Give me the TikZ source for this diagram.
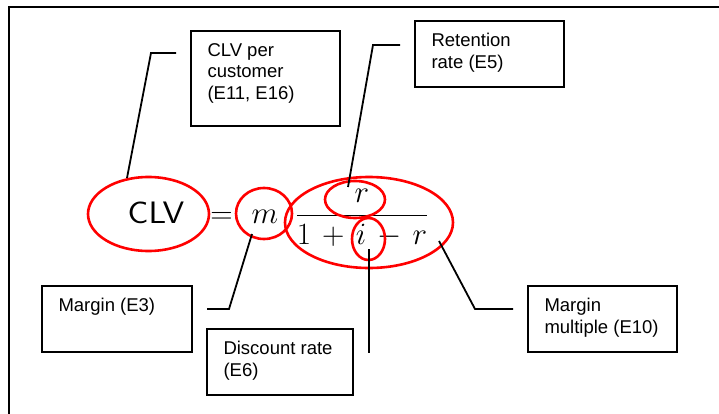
\RequirePackage{fix-cm}
\documentclass[tikz,border=0pt]{standalone}
\usepackage[no-math]{fontspec}
\usepackage{graphicx}
\usepackage{tikz}
\usetikzlibrary{positioning,shapes}

\newfontfamily\arial{Liberation Sans}
\newcommand{\notefont}{\arial\fontsize{18.5}{21.5}\selectfont}
\newcommand{\eqnfont}{\fontsize{31}{36}\selectfont}
\newcommand{\notebox}[3]{\parbox[t][#2][t]{#1}{\raggedright #3}}

\begin{document}
\begin{tikzpicture}
  [x=1pt, y=1pt,
   note/.style={draw, line width=2pt, anchor=north west, outer sep=0pt,
     inner xsep=16.5pt, inner ysep=12.5pt, font=\notefont},
   ring/.style={draw=red, line width=2.6pt, ellipse, inner sep=0pt},
   leader/.style={line width=1.8pt},
   eqn/.style={anchor=base, inner sep=0pt, font=\eqnfont}]
  \useasboundingbox (0,0) rectangle (719,-414);
  \clip (0,0) rectangle (719,-414);
  \draw[line width=2.2pt] (9,-7) rectangle (740,-440);

  % the formula
  \node[eqn] (clvsym) at (156,-223) {\scalebox{1.12}[1]{\textsf{CLV}}};
  \node[eqn] (eqsign) at (221.5,-223) {$=$};
  \node[eqn] (msym) at (265,-223) {$m$};
  \node[eqn] (fracsym) at (362,-223) {\medmuskip=6.5mu $\displaystyle\frac{r}{1+i-r}$};

  % red rings
  \node[ring, minimum width=121, minimum height=74] (clvring) at (148.5,-214) {};
  \node[ring, minimum width=56, minimum height=51] (mring) at (264,-213.5) {};
  \node[ring, minimum width=168, minimum height=91] (fracring) at (369,-222.5) {};
  \node[ring, minimum width=60, minimum height=37] (rring) at (355,-199.5) {};
  \node[ring, minimum width=33, minimum height=42] (iring) at (368.5,-239) {};

  % notes
  \node[note] (clvbox) at (191,-31) {\notebox{116pt}{70pt}{CLV per\\customer\\(E11, E16)}};
  \node[note] (retbox) at (415,-21) {\notebox{116pt}{41pt}{Retention\\rate (E5)}};
  \node[note] (marginbox) at (42,-286) {\notebox{117pt}{41pt}{Margin (E3)}};
  \node[note] (discbox) at (207,-329) {\notebox{113pt}{41pt}{Discount rate\\(E6)}};
  \node[note] (multbox) at (528,-286) {\notebox{116pt}{41pt}{Margin\\multiple (E10)}};

  % leader lines
  \coordinate (clvstart) at (176,-53);
  \coordinate (clvbend) at (151,-53);
  \coordinate (clvtip) at (127,-178);
  \coordinate (retstart) at (400,-45);
  \coordinate (retbend) at (373,-45);
  \coordinate (rettip) at (348,-187);
  \coordinate (mstart) at (207,-309);
  \coordinate (mbend) at (229,-309);
  \coordinate (mtip) at (252,-234);
  \coordinate (multstart) at (513,-309);
  \coordinate (multbend) at (475,-309);
  \coordinate (multtip) at (439,-241);
  \coordinate (itip) at (369,-249);
  \coordinate (iend) at (369,-353);

  \foreach \a/\b/\c in {clvstart/clvbend/clvtip, retstart/retbend/rettip,
                        mstart/mbend/mtip, multstart/multbend/multtip}
    \draw[leader] (\a) -- (\b) -- (\c);
  \draw[leader] (itip) -- (iend);
\end{tikzpicture}
\end{document}
